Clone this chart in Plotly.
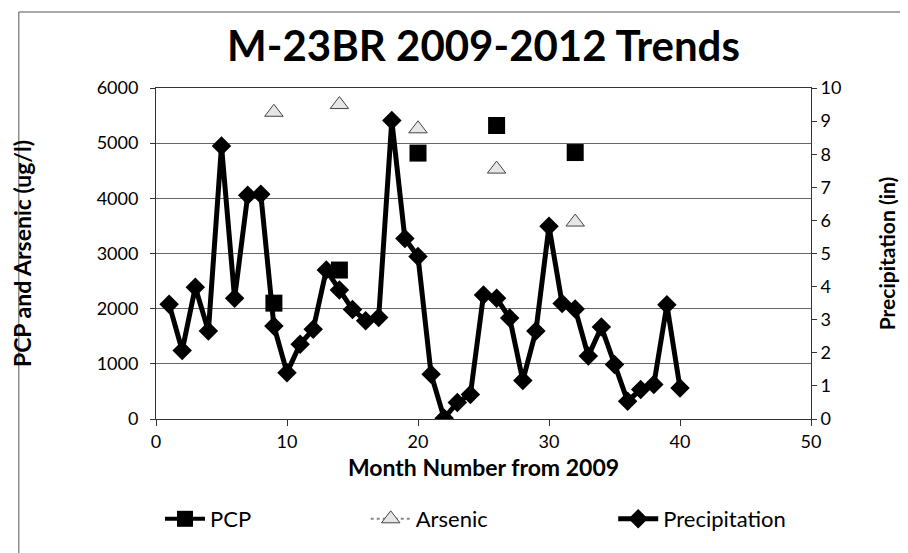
import plotly.graph_objects as go

# ---- data ----
months = list(range(1, 41))
precip_in = [3.47, 2.07, 3.98, 2.66, 8.25, 3.65, 6.76, 6.79, 2.81, 1.40,
             2.26, 2.71, 4.50, 3.90, 3.31, 2.97, 3.07, 9.02, 5.45, 4.91,
             1.35, 0.02, 0.50, 0.74, 3.75, 3.65, 3.05, 1.16, 2.66, 5.82,
             3.49, 3.32, 1.90, 2.78, 1.65, 0.54, 0.89, 1.04, 3.45, 0.94]

pcp_months = [9, 14, 20, 26, 32]
pcp_values = [2100, 2700, 4820, 5320, 4830]

arsenic_months = [9, 14, 20, 26, 32]
arsenic_values = [5560, 5700, 5260, 4530, 3570]

x_ticks = [0, 10, 20, 30, 40, 50]
left_ticks = [0, 1000, 2000, 3000, 4000, 5000, 6000]
right_ticks = list(range(0, 11))

# full monthly series with gaps (no connecting lines between isolated samples)
pcp_map = dict(zip(pcp_months, pcp_values))
ars_map = dict(zip(arsenic_months, arsenic_values))
pcp_full = [pcp_map.get(m) for m in months]
ars_full = [ars_map.get(m) for m in months]

FONT = "Lato"
TICK = 18
AXT = 23
LEG = 22

fig = go.Figure()

fig.add_trace(go.Scatter(
    x=months, y=pcp_full, name="PCP", mode="lines+markers",
    connectgaps=False, showlegend=True,
    line=dict(color="black", width=4),
    marker=dict(symbol="square", size=17, color="black"),
    legend="legend",
))
fig.add_trace(go.Scatter(
    x=months, y=ars_full, name="Arsenic", mode="lines+markers",
    connectgaps=False, showlegend=True,
    line=dict(color="#888888", width=2, dash="dot"),
    marker=dict(symbol="triangle-up", size=16, color="#e6e6e6",
                line=dict(color="#444444", width=1)),
    legend="legend2",
))
fig.add_trace(go.Scatter(
    x=months, y=precip_in, name="Precipitation", mode="lines+markers",
    yaxis="y2", showlegend=True,
    line=dict(color="black", width=5),
    marker=dict(symbol="diamond", size=15, color="black"),
    legend="legend3",
))

W, H = 908, 553
L, R, T, B = 144, 105, 80, 142
pw, ph = W - L - R, H - T - B

def px(p):
    return (p - L) / pw

def py(q):
    return (H - B - q) / ph

legend_common = dict(orientation="h", yanchor="middle", xanchor="left",
                     font=dict(family=FONT, size=LEG, color="black"),
                     bgcolor="rgba(0,0,0,0)", itemwidth=40)
leg_y = py(H - B + 100)

fig.update_layout(
    width=W, height=H,
    showlegend=True,
    margin=dict(l=L, r=R, t=T, b=B),
    paper_bgcolor="white", plot_bgcolor="white",
    font=dict(family=FONT, color="black"),
    title=dict(text="<b>M-23BR 2009-2012 Trends</b>",
               font=dict(family=FONT, size=42, color="black"),
               x=0.5, xref="paper", xanchor="center",
               y=1 - 38 / H, yref="container", yanchor="middle"),
    xaxis=dict(range=[0, 50], tickvals=x_ticks,
               showgrid=False, zeroline=False,
               showline=True, linecolor="#333333", linewidth=1,
               mirror=True,
               ticks="outside", ticklen=6, tickcolor="#333333",
               tickfont=dict(family=FONT, size=TICK, color="black"),
               title=dict(text="<b>Month Number from 2009</b>",
                          font=dict(family=FONT, size=AXT, color="black"),
                          standoff=9)),
    yaxis=dict(range=[0, 6000], tickvals=left_ticks,
               showgrid=True, gridcolor="#666666", gridwidth=1,
               zeroline=False,
               showline=True, linecolor="#333333", linewidth=1,
               ticks="outside", ticklen=5, tickcolor="#333333",
               ticklabelstandoff=8,
               tickfont=dict(family=FONT, size=TICK, color="black"),
               title=dict(text="<b>PCP and Arsenic (ug/l)</b>",
                          font=dict(family=FONT, size=AXT, color="black"),
                          standoff=61)),
    yaxis2=dict(range=[0, 10], tickvals=right_ticks,
                overlaying="y", side="right",
                showgrid=False, zeroline=False,
                showline=True, linecolor="#333333", linewidth=1,
                ticks="outside", ticklen=5, tickcolor="#333333",
                tickfont=dict(family=FONT, size=TICK, color="black"),
                title=dict(text="<b>Precipitation (in)</b>",
                           font=dict(family=FONT, size=21, color="black"),
                           standoff=39)),
    legend=dict(x=px(L + 4), y=leg_y, **legend_common),
    legend2=dict(x=px(L + 211), y=leg_y, **legend_common),
    legend3=dict(x=px(L + 460), y=leg_y, **legend_common),
    shapes=[
        dict(type="line", xref="paper", yref="paper",
             x0=px(6), x1=px(907), y0=py(4), y1=py(4),
             line=dict(color="#555555", width=1)),
        dict(type="line", xref="paper", yref="paper",
             x0=px(6), x1=px(6), y0=py(4), y1=py(553),
             line=dict(color="#555555", width=1)),
    ],
)

fig.write_html("out.html")
